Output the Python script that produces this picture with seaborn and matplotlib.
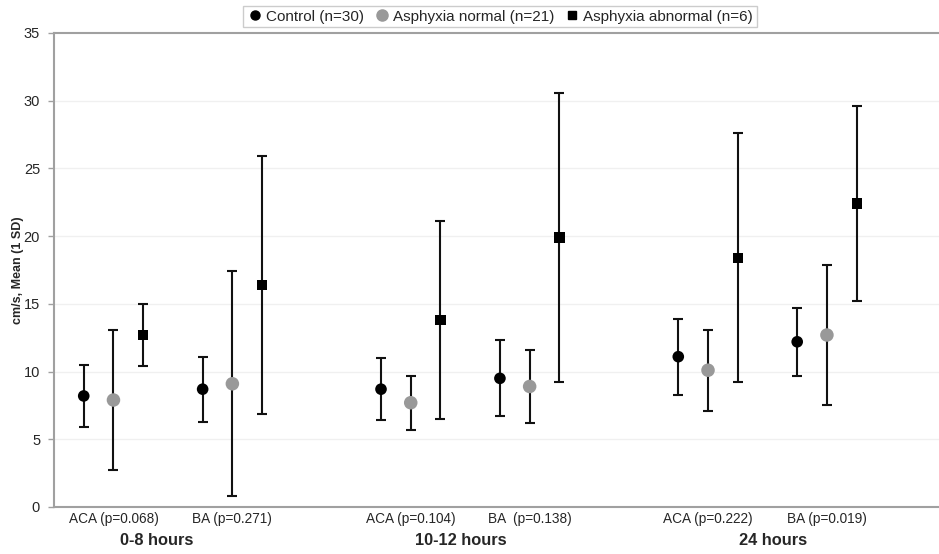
import matplotlib
matplotlib.use("Agg")
import matplotlib.pyplot as plt
import seaborn as sns
import pandas as pd
import numpy as np
from matplotlib.lines import Line2D

# ---- data ----
vessels = ["ACA (p=0.068)", "BA (p=0.271)", "ACA (p=0.104)", "BA  (p=0.138)", "ACA (p=0.222)", "BA (p=0.019)"]
time_groups = ["0-8 hours", "10-12 hours", "24 hours"]
series = ["Control (n=30)", "Asphyxia normal (n=21)", "Asphyxia abnormal (n=6)"]

control_mean = [8.2, 8.7, 8.7, 9.5, 11.1, 12.2]
control_low = [5.9, 6.3, 6.4, 6.7, 8.3, 9.7]
control_high = [10.5, 11.1, 11.0, 12.3, 13.9, 14.7]

normal_mean = [7.9, 9.1, 7.7, 8.9, 10.1, 12.7]
normal_low = [2.7, 0.8, 5.7, 6.2, 7.1, 7.5]
normal_high = [13.1, 17.4, 9.7, 11.6, 13.1, 17.9]

abnormal_mean = [12.7, 16.4, 13.8, 19.9, 18.4, 22.4]
abnormal_low = [10.4, 6.9, 6.5, 9.2, 9.2, 15.2]
abnormal_high = [15.0, 25.9, 21.1, 30.6, 27.6, 29.6]

# ---- layout ----
group_centers = [2, 6, 12, 16, 22, 26]
offsets = [-1, 0, 1]
colors = ["#000000", "#999999", "#000000"]
markers = ["o", "o", "s"]
msizes = [70, 95, 55]

rows = []
all_vals = [(control_mean, control_low, control_high),
            (normal_mean, normal_low, normal_high),
            (abnormal_mean, abnormal_low, abnormal_high)]
for s, (m, lo, hi), off in zip(series, all_vals, offsets):
    for i, c in enumerate(group_centers):
        rows.append({"series": s, "x": c + off, "mean": m[i], "low": lo[i], "high": hi[i]})
df = pd.DataFrame(rows)

sns.set_theme(style="white")
plt.rcParams["font.family"] = ["Liberation Sans", "DejaVu Sans"]

fig = plt.figure(figsize=(9.39, 5.54), dpi=100)
ax = fig.add_axes([54 / 939, 1 - 507 / 554, 1 - 54 / 939, (507 - 33) / 554])

# error bars
for s in series:
    d = df[df["series"] == s]
    ax.errorbar(d["x"], d["mean"],
                yerr=[d["mean"] - d["low"], d["high"] - d["mean"]],
                fmt="none", ecolor="#111111", elinewidth=1.5, capsize=3.5,
                capthick=1.5, zorder=2)

sns.scatterplot(data=df, x="x", y="mean", hue="series", style="series",
                palette=dict(zip(series, colors)),
                markers=dict(zip(series, markers)),
                size="series", sizes=dict(zip(series, msizes)),
                edgecolor="none", linewidth=0, ax=ax, legend=False, zorder=3)

ax.set_xlim(0, 29.77)
ax.set_ylim(0, 35)
ax.set_yticks(np.arange(0, 36, 5))
ax.set_xticks([])
ax.set_xlabel("")
ax.set_ylabel("")
ax.tick_params(axis="y", labelsize=10.5, length=4, width=1, color="#a0a0a0", pad=6, left=True)
fig.text(18 / 939, 1 - 270 / 554, "cm/s, Mean (1 SD)", rotation=90, fontsize=9,
         fontweight="bold", ha="center", va="center")
for yv in range(5, 31, 5):
    ax.axhline(yv, color="#f0f0f0", lw=1, zorder=0)
for side in ["left", "bottom", "top"]:
    ax.spines[side].set_color("#a0a0a0")
    ax.spines[side].set_linewidth(1.5)
ax.spines["right"].set_visible(False)

# category labels
for c, lab in zip(group_centers, vessels):
    ax.text(c, -0.9, lab, ha="center", va="center", fontsize=9.8, clip_on=False)
for xg, lab in zip([3.46, 13.69, 24.18], time_groups):
    ax.text(xg, -2.5, lab, ha="center", va="center", fontsize=11.8, fontweight="bold", clip_on=False)

handles = [Line2D([], [], ls="none", marker=mk, color=cl, markersize=ms)
           for mk, cl, ms in zip(markers, colors, [6.5, 8, 6])]
leg = fig.legend(handles, series, loc="center", bbox_to_anchor=(500 / 939, 1 - 16.5 / 554),
                 ncol=3, fontsize=11, frameon=True, fancybox=False, handletextpad=0.2,
                 columnspacing=0.7, borderpad=0.25, handlelength=1.0)
leg.get_frame().set_edgecolor("#c0c0c0")
leg.get_frame().set_linewidth(1)

fig.savefig("out.png", dpi=100)
